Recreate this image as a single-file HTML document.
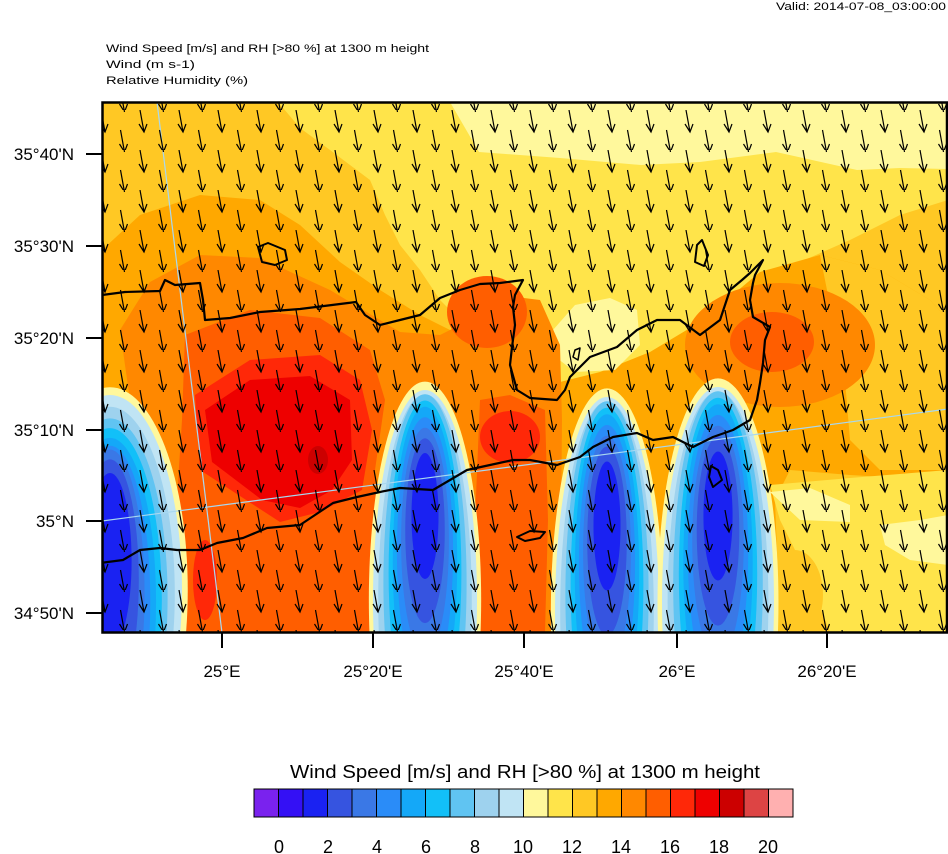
<!DOCTYPE html>
<html><head><meta charset="utf-8"><style>
html,body{margin:0;padding:0;background:#fff;}
svg{display:block;font-family:"Liberation Sans",sans-serif;}
</style></head><body>
<svg width="948" height="854" viewBox="0 0 948 854" xmlns="http://www.w3.org/2000/svg">
<defs>
<clipPath id="pc"><rect x="102" y="102" width="846" height="531"/></clipPath>
<pattern id="arr" patternUnits="userSpaceOnUse" x="96" y="110" width="39" height="40">
<path d="M5 0 L9 22 M4 14 L9 22 L12 14 M24.5 20 L28.5 42 M23.5 34 L28.5 42 L31.5 34 M24.5 -20 L28.5 2" stroke="#000" stroke-width="1.2" fill="none"/>
</pattern>
<g id="col">
<ellipse cx="0" cy="0" rx="1.08" ry="1.04" fill="#fff89c"/>
<ellipse cx="0" cy="0" rx="1" ry="1" fill="#c0e4f4"/>
<ellipse cx="0" cy="0.02" rx="0.9" ry="0.96" fill="#9ed2ee"/>
<ellipse cx="0" cy="0.04" rx="0.8" ry="0.92" fill="#60c4f2"/>
<ellipse cx="0" cy="0.05" rx="0.72" ry="0.88" fill="#12c0f8"/>
<ellipse cx="0" cy="0.06" rx="0.64" ry="0.84" fill="#14a8f8"/>
<ellipse cx="0" cy="0.06" rx="0.56" ry="0.8" fill="#2a8cf8"/>
<ellipse cx="0" cy="0.02" rx="0.48" ry="0.74" fill="#3a78e6"/>
<ellipse cx="0" cy="-0.05" rx="0.4" ry="0.62" fill="#3654e0"/>
<ellipse cx="0" cy="-0.15" rx="0.3" ry="0.45" fill="#1a22f2"/>
</g>
<g id="col2">
<ellipse cx="0" cy="0" rx="1.08" ry="1.04" fill="#fff89c"/>
<ellipse cx="0" cy="0" rx="1" ry="1" fill="#c0e4f4"/>
<ellipse cx="0" cy="0" rx="0.9" ry="0.98" fill="#9ed2ee"/>
<ellipse cx="0" cy="-0.08" rx="0.8" ry="0.9" fill="#60c4f2"/>
<ellipse cx="0" cy="-0.13" rx="0.7" ry="0.82" fill="#12c0f8"/>
<ellipse cx="0" cy="-0.18" rx="0.62" ry="0.74" fill="#14a8f8"/>
<ellipse cx="0" cy="-0.23" rx="0.54" ry="0.64" fill="#2a8cf8"/>
<ellipse cx="0" cy="-0.28" rx="0.46" ry="0.54" fill="#3a78e6"/>
<ellipse cx="0" cy="-0.33" rx="0.38" ry="0.44" fill="#3654e0"/>
<ellipse cx="0" cy="-0.4" rx="0.26" ry="0.3" fill="#1a22f2"/>
</g>
</defs>

<text x="946" y="10" font-size="11" text-anchor="end" textLength="170" lengthAdjust="spacingAndGlyphs">Valid: 2014-07-08_03:00:00</text>
<text x="106" y="52" font-size="11" textLength="323" lengthAdjust="spacingAndGlyphs">Wind Speed [m/s] and RH [&gt;80 %] at 1300 m height</text>
<text x="106" y="68" font-size="11" textLength="89" lengthAdjust="spacingAndGlyphs">Wind   (m s-1)</text>
<text x="106" y="84" font-size="11" textLength="142" lengthAdjust="spacingAndGlyphs">Relative Humidity   (%)</text>

<g clip-path="url(#pc)">
<rect x="102" y="102" width="846" height="531" fill="#ffc824"/>
<polygon fill="#ffe44a" points="278,102 948,102 948,200 900,215 850,240 800,262 760,290 740,330 700,355 650,372 600,385 570,400 555,420 540,412 520,380 470,330 440,300 420,270 400,245 385,215 370,180 330,150 300,128"/>
<polygon fill="#fff89c" points="450,102 948,102 948,169 900,168 857,170 776,152 700,162 641,165 560,158 479,152"/>
<polygon fill="#ffa800" points="102,250 140,215 200,195 260,200 300,225 340,262 380,290 420,315 470,340 520,370 560,382 600,372 650,352 700,322 760,272 820,255 880,270 930,300 948,320 948,470 900,478 850,475 790,470 775,500 780,632 102,632"/>
<polygon fill="#ffc824" points="820,255 880,270 930,300 948,320 948,470 880,470 850,440 845,380"/>
<polygon fill="#ffe44a" points="770,485 850,478 948,470 948,632 830,632 805,570 780,520"/>
<ellipse cx="795" cy="595" rx="28" ry="45" fill="#ffc824"/>
<polygon fill="#fff89c" points="553,330 575,305 610,298 637,310 640,345 615,370 575,372 553,355"/>
<polygon fill="#fff89c" points="770,492 810,488 850,505 850,522 800,520"/>
<polygon fill="#fff89c" points="880,525 920,520 948,515 948,565 910,560 885,545"/>
<polygon fill="#ff8800" points="120,330 150,282 200,255 260,258 330,290 400,332 440,335 470,320 500,295 540,300 560,345 562,420 560,632 170,632 160,500 130,400"/>
<ellipse cx="780" cy="345" rx="95" ry="62" fill="#ff8800"/>
<ellipse cx="772" cy="342" rx="42" ry="30" fill="#ff5e00"/>
<ellipse cx="487" cy="312" rx="40" ry="36" fill="#ff5e00"/>
<polygon fill="#ff5e00" points="185,335 250,310 320,318 370,350 385,400 375,470 380,632 180,632 175,530 182,420"/>
<polygon fill="#ff5e00" points="480,400 510,395 545,410 548,520 545,632 480,632 475,520"/>
<polygon fill="#ff2808" points="195,395 250,360 320,355 360,380 372,430 362,490 320,512 280,522 200,470"/>
<ellipse cx="510" cy="437" rx="30" ry="26" fill="#ff2808"/>
<ellipse cx="205" cy="580" rx="12" ry="40" fill="#ff2808"/>
<polygon fill="#ee0000" points="205,410 250,380 310,376 350,400 352,460 332,490 300,508 262,500 212,462"/>
<ellipse cx="318" cy="460" rx="10" ry="14" fill="#cc0000"/>
<use href="#col" transform="translate(110,590) scale(72,195)"/>
<use href="#col2" transform="translate(425,600) scale(52,210)"/>
<use href="#col2" transform="translate(607,612) scale(52,215)"/>
<use href="#col2" transform="translate(718,602) scale(56,215)"/>

<line x1="157" y1="102" x2="222" y2="633" stroke="#a8d8f0" stroke-width="1.2"/>
<line x1="102" y1="521" x2="948" y2="409" stroke="#a8d8f0" stroke-width="1.2"/>

<g fill="none" stroke="#000" stroke-width="2.2" stroke-linejoin="round">
<path d="M102,295 L125,292 L160,291 L165,280 L175,285 L200,283 L203,300 L205,320 L230,318 L260,312 L300,309 L340,304 L356,302 L365,315 L380,325 L400,320 L420,315 L440,298 L460,290 L480,284 L500,283 L523,280 L515,295 L513,307 L515,325 L512,347 L510,365 L517,390 L530,398 L557,400 L565,390 L570,377 L590,357 L617,347 L637,330 L657,320 L680,320 L700,335 L720,320 L730,290 L742,280 L750,273 L763,260 L755,275 L753,283 L750,300 L753,317 L770,327 L765,340 L763,363 L760,383 L757,400 L750,420 L733,430 L713,437 L693,447 L673,437 L653,440 L637,433 L613,437 L593,447 L580,457 L557,465 L530,460 L513,460 L490,465 L467,470 L450,480 L433,490 L400,488 L380,492 L357,497 L333,503 L315,515 L300,525 L267,528 L243,538 L217,543 L200,550 L177,550 L160,548 L140,550 L123,560 L100,563"/>
<path d="M258,247 L268,243 L285,250 L287,260 L275,265 L262,262 Z" stroke-width="2"/>
<path d="M697,245 L702,240 L708,255 L704,266 L695,262 Z" stroke-width="2"/>
<path d="M517,537 L530,531 L545,532 L540,538 L525,541 Z" stroke-width="2"/>
<path d="M711,466 L718,470 L722,480 L713,487 L709,477 Z" stroke-width="2"/>
<path d="M575,350 L580,348 L578,360 L573,357 Z" stroke-width="1.5"/>
</g>

<rect x="96" y="102" width="860" height="531" fill="url(#arr)"/>
</g>
<rect x="102.5" y="102.5" width="844.5" height="530" fill="none" stroke="#000" stroke-width="2.5"/>

<g stroke="#000" stroke-width="2">
<line x1="86" y1="154" x2="102" y2="154"/>
<line x1="86" y1="246" x2="102" y2="246"/>
<line x1="86" y1="338" x2="102" y2="338"/>
<line x1="86" y1="430" x2="102" y2="430"/>
<line x1="86" y1="521" x2="102" y2="521"/>
<line x1="86" y1="613" x2="102" y2="613"/>
<line x1="222" y1="633" x2="222" y2="648"/>
<line x1="373" y1="633" x2="373" y2="648"/>
<line x1="524" y1="633" x2="524" y2="648"/>
<line x1="677" y1="633" x2="677" y2="648"/>
<line x1="827" y1="633" x2="827" y2="648"/>
</g>
<g font-size="17" text-anchor="end">
<text x="74" y="160">35°40'N</text>
<text x="74" y="252">35°30'N</text>
<text x="74" y="344">35°20'N</text>
<text x="74" y="436">35°10'N</text>
<text x="74" y="527">35°N</text>
<text x="74" y="619">34°50'N</text>
</g>
<g font-size="17" text-anchor="middle">
<text x="222" y="677">25°E</text>
<text x="373" y="677">25°20'E</text>
<text x="524" y="677">25°40'E</text>
<text x="677" y="677">26°E</text>
<text x="827" y="677">26°20'E</text>
</g>

<text x="525" y="778" font-size="18" text-anchor="middle" textLength="470" lengthAdjust="spacingAndGlyphs">Wind Speed [m/s] and RH [&gt;80 %] at 1300 m height</text>
<g stroke="#000" stroke-width="1">
<rect x="254" y="789" width="24.5" height="28" fill="#7a22ee"/>
<rect x="278.5" y="789" width="24.5" height="28" fill="#3410f5"/>
<rect x="303" y="789" width="24.5" height="28" fill="#1a22f2"/>
<rect x="327.5" y="789" width="24.5" height="28" fill="#3654e0"/>
<rect x="352" y="789" width="24.5" height="28" fill="#3a78e6"/>
<rect x="376.5" y="789" width="24.5" height="28" fill="#2a8cf8"/>
<rect x="401" y="789" width="24.5" height="28" fill="#14a8f8"/>
<rect x="425.5" y="789" width="24.5" height="28" fill="#12c0f8"/>
<rect x="450" y="789" width="24.5" height="28" fill="#60c4f2"/>
<rect x="474.5" y="789" width="24.5" height="28" fill="#9ed2ee"/>
<rect x="499" y="789" width="24.5" height="28" fill="#c0e4f4"/>
<rect x="523.5" y="789" width="24.5" height="28" fill="#fff89c"/>
<rect x="548" y="789" width="24.5" height="28" fill="#ffe44a"/>
<rect x="572.5" y="789" width="24.5" height="28" fill="#ffc824"/>
<rect x="597" y="789" width="24.5" height="28" fill="#ffa800"/>
<rect x="621.5" y="789" width="24.5" height="28" fill="#ff8800"/>
<rect x="646" y="789" width="24.5" height="28" fill="#ff5e00"/>
<rect x="670.5" y="789" width="24.5" height="28" fill="#ff2808"/>
<rect x="695" y="789" width="24.5" height="28" fill="#ee0000"/>
<rect x="719.5" y="789" width="24.5" height="28" fill="#cc0000"/>
<rect x="744" y="789" width="24.5" height="28" fill="#dd4444"/>
<rect x="768.5" y="789" width="24.5" height="28" fill="#ffb0b0"/>
</g>
<g font-size="18" text-anchor="middle">
<text x="279" y="853">0</text>
<text x="328" y="853">2</text>
<text x="377" y="853">4</text>
<text x="426" y="853">6</text>
<text x="475" y="853">8</text>
<text x="523" y="853">10</text>
<text x="572" y="853">12</text>
<text x="621" y="853">14</text>
<text x="670" y="853">16</text>
<text x="719" y="853">18</text>
<text x="768" y="853">20</text>
</g>
</svg>
</body></html>
